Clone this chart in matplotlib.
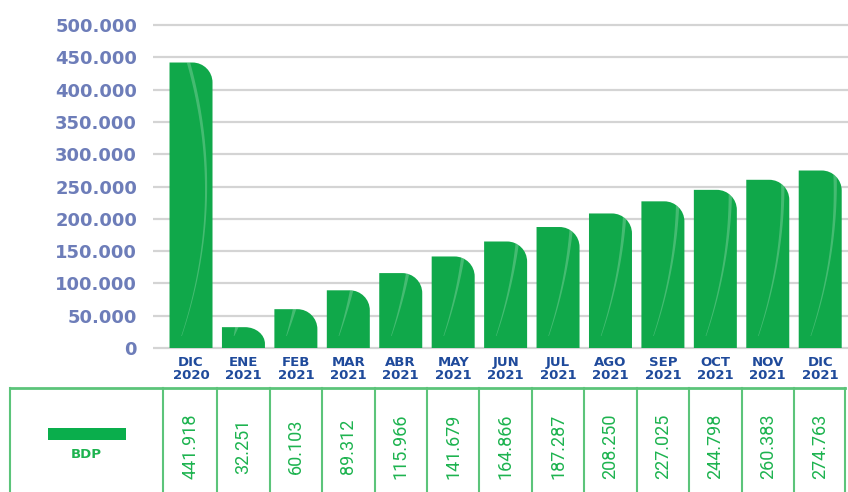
import matplotlib
matplotlib.use("Agg")
import matplotlib.pyplot as plt
import numpy as np
from matplotlib.path import Path
from matplotlib.patches import PathPatch, Rectangle, Polygon
from matplotlib.lines import Line2D
from matplotlib.transforms import blended_transform_factory

# Monthly BDP figures
months = ["DIC", "ENE", "FEB", "MAR", "ABR", "MAY", "JUN", "JUL", "AGO", "SEP", "OCT", "NOV", "DIC"]
years = ["2020"] + ["2021"] * 12
bdp = [441918, 32251, 60103, 89312, 115966, 141679, 164866,
       187287, 208250, 227025, 244798, 260383, 274763]
series_name = "BDP"
y_ticks = list(range(0, 500001, 50000))

BAR_GREEN = "#10a84a"
LINE_GREEN = "#5cc47a"
TEXT_GREEN = "#1db34f"
CAT_BLUE = "#1f4a9b"
TICK_BLUE = "#6d7db9"
GRID = "#d4d4d4"

W, H = 848, 492
fig = plt.figure(figsize=(W / 100, H / 100), dpi=100)


def fy(px):
    return 1 - px / H


ax = fig.add_axes([153 / W, fy(348), (848 - 153) / W, (348 - 25) / H])
x = np.arange(len(bdp))
ax.set_xlim(-0.725, 12.53)
ax.set_ylim(0, 500000)
for s in ax.spines.values():
    s.set_visible(False)
ax.set_xticks([])
ax.set_yticks(y_ticks)
ax.set_yticklabels([f"{t:,}".replace(",", ".") for t in y_ticks])
ax.tick_params(axis="y", length=0, pad=11.5, labelsize=13, labelcolor=TICK_BLUE)
for lbl in ax.get_yticklabels():
    lbl.set_fontweight("bold")
ax.hlines(y_ticks, 0, 1, transform=ax.get_yaxis_transform(), colors=GRID,
          linewidth=1.6, clip_on=False, zorder=0)

# pixel scale of the data axes, used for the rounded corner and the sheen
p0 = ax.transData.transform((0, 0))
p1 = ax.transData.transform((1, 100000))
sx = p1[0] - p0[0]
sy = (p1[1] - p0[1]) / 100000

bar_w = 0.82
k = 0.5523
for i, v in zip(x, bdp):
    left, right = i - bar_w / 2, i + bar_w / 2
    h_px = v * sy
    rx = 20 / sx
    ry = min(20, 0.8 * h_px) / sy
    verts = [(left, 0), (left, v), (right - rx, v),
             (right - rx * (1 - k), v), (right, v - ry * (1 - k)), (right, v - ry),
             (right, 0), (left, 0)]
    codes = [Path.MOVETO, Path.LINETO, Path.LINETO,
             Path.CURVE4, Path.CURVE4, Path.CURVE4,
             Path.LINETO, Path.CLOSEPOLY]
    patch = PathPatch(Path(verts, codes), facecolor=BAR_GREEN, edgecolor="none", zorder=2)
    ax.add_patch(patch)

    # light sheen streak across the bar, tapering toward the base
    yb = np.linspace(12, max(h_px + 2, 13), 60)
    frac = np.clip(0.85 - 2.6e-5 * (yb - 160) ** 2, 0.2, 0.95)
    cx = left + frac * bar_w
    half = np.interp(yb, [12, max(h_px, 13)], [0.3, 1.7]) / sx
    if h_px > 300:
        half = np.interp(yb, [12, 160, h_px], [0.3, 1.7, 1.7]) / sx
    ys = yb / sy
    poly = np.vstack([np.column_stack([cx - half, ys]),
                      np.column_stack([cx + half, ys])[::-1]])
    sheen = Polygon(poly, closed=True, facecolor="white", edgecolor="none",
                    alpha=0.22, zorder=3)
    ax.add_patch(sheen)
    sheen.set_clip_path(patch)

T = blended_transform_factory(ax.transData, fig.transFigure)

# category labels
for i, (m, yv) in zip(x, zip(months, years)):
    ax.text(i, fy(369), f"{m}\n{yv}", transform=T, ha="center", va="center",
            fontsize=9.5, fontweight="bold", color=CAT_BLUE, linespacing=1.05)

# data table
fig.add_artist(Line2D([10 / W, 845 / W], [fy(388), fy(388)], color=LINE_GREEN, linewidth=2))
fig.add_artist(Line2D([10 / W, 10 / W], [fy(388), 0], color=LINE_GREEN, linewidth=1.5))
edges = [-0.53] + [i + 0.5 for i in range(len(bdp) - 1)] + [12.48]
for e in edges:
    ax.add_line(Line2D([e, e], [fy(388), 0], transform=T, color=LINE_GREEN,
                       linewidth=1.5, clip_on=False))
for i, v in zip(x, bdp):
    ax.text(i, fy(446), f"{v:,}".replace(",", "."), transform=T, rotation=90,
            ha="center", va="center", fontsize=13, color=TEXT_GREEN,
            family="Roboto")

fig.add_artist(Rectangle((48 / W, fy(440)), 78 / W, 12 / H, transform=fig.transFigure,
                         facecolor="#0aae4c", edgecolor="none"))
fig.text(86 / W, fy(455), series_name, ha="center", va="center", fontsize=9.5,
         fontweight="bold", color=TEXT_GREEN)

fig.savefig("out.png", dpi=100)
